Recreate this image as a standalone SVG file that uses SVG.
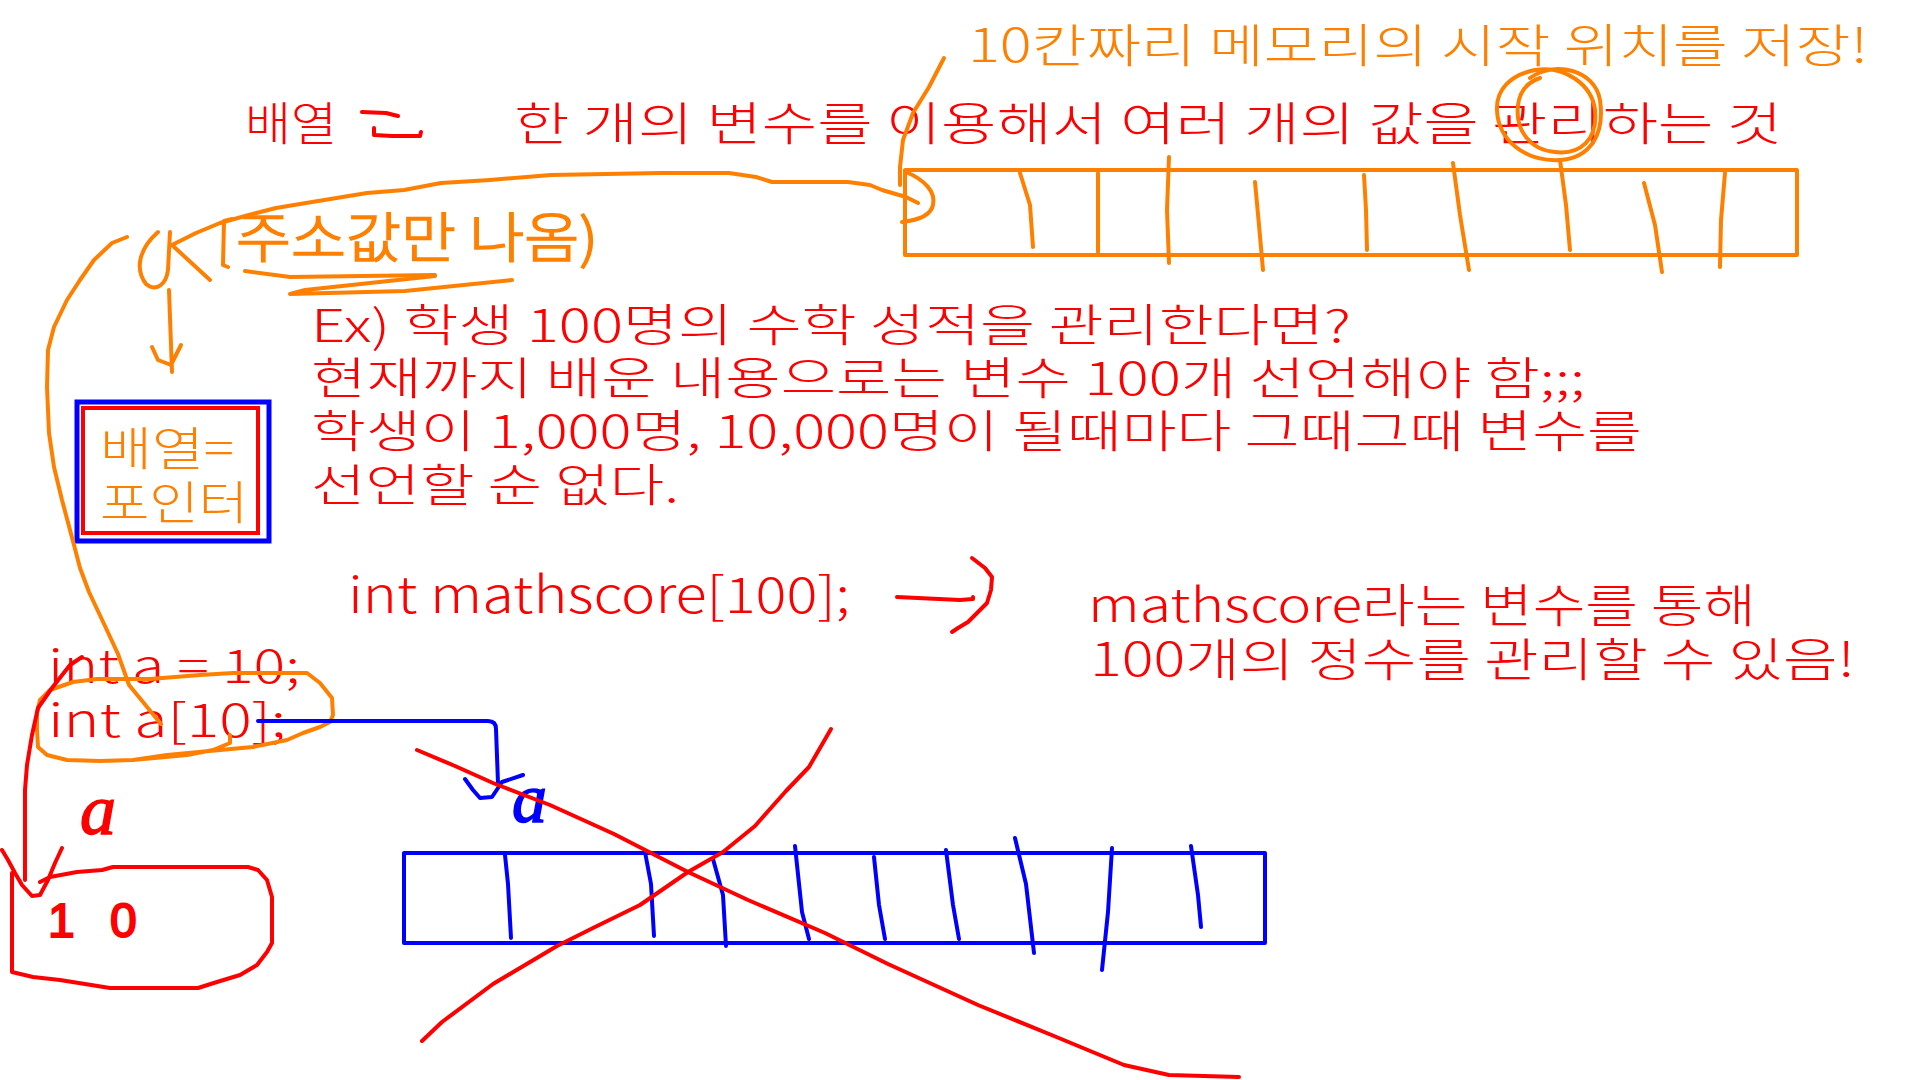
<svg xmlns="http://www.w3.org/2000/svg" width="1920" height="1080" viewBox="0 0 1920 1080">
<style>
.kr{font-family:"Noto Sans CJK KR","Noto Sans",sans-serif;font-weight:300}
.r{fill:#FF0000}
.or{fill:#FF8000}
.so{stroke:#FF8000;fill:none;stroke-width:4;stroke-linecap:round;stroke-linejoin:round}
.sr{stroke:#FF0000;fill:none;stroke-width:4;stroke-linecap:round;stroke-linejoin:round}
.sb{stroke:#0000FF;fill:none;stroke-width:4;stroke-linecap:round;stroke-linejoin:round}
.hand{font-family:"Liberation Serif",serif;font-style:italic}
</style>
<rect width="1920" height="1080" fill="#FFFFFF"/>

<g id="title-note">
<text class="kr or" x="968" y="62" font-size="46" textLength="900" lengthAdjust="spacingAndGlyphs">10칸짜리 메모리의 시작 위치를 저장!</text>
</g>
<g id="definition">
<text class="kr r" x="245" y="140" font-size="46" textLength="92" lengthAdjust="spacingAndGlyphs">배열</text>
<path class="sr" stroke-width="7" d="M362,112 L386,113 L398,116 M374,128 L374,135 L392,136 L420,136 L421,132"/>
<text class="kr r" x="514" y="140" font-size="46" textLength="1268" lengthAdjust="spacingAndGlyphs">한 개의 변수를 이용해서 여러 개의 값을 관리하는 것</text>
</g>

<g id="memory-top">
<rect x="905" y="170" width="892" height="85" class="so" stroke-width="5"/>
<path class="so" d="M1020,173 L1030,205 L1033,247 M1098,173 L1098,252 M1169,157 L1167,210 L1169,263 M1255,182 L1259,225 L1263,270 M1364,175 L1366,210 L1367,250 M1453,163 L1460,215 L1469,270 M1560,160 L1566,205 L1570,250 M1644,183 L1655,225 L1662,272 M1725,173 L1721,220 L1720,267"/>
<path class="so" d="M906,172 C925,180 936,192 933,205 C931,215 920,220 902,222"/>
<path class="so" d="M944,58 L929,87 L913,113 L903,140 L900,167 L900,185"/>
<path class="so" d="M1530,78 C1555,60 1595,70 1600,100 C1605,135 1590,158 1560,160 C1525,162 1498,140 1497,110 C1496,90 1510,75 1535,70 C1565,65 1592,85 1595,110 C1598,140 1580,155 1555,152 C1530,150 1515,130 1518,105 C1520,90 1528,82 1540,78"/>
</g>

<g id="address-note">
<text class="kr or" x="236" y="258" font-size="54" stroke="#FF8000" stroke-width="1.5" textLength="362" lengthAdjust="spacingAndGlyphs">주소값만 나옴)</text>
<path class="so" d="M232,219 L224,221 L223,265 L228,267"/>
<path class="so" d="M158,232 C140,248 134,268 146,284 C156,292 166,285 168,270 L170,232"/>
<path class="so" stroke-width="8" d="M245,271 L290,277 L435,275"/>
<path class="so" stroke-width="5" d="M435,276 L305,290 L290,294 L405,291 L512,280"/>
</g>

<g id="pointer-box">
<rect x="77" y="402" width="192" height="139" fill="none" stroke="#0000FF" stroke-width="5"/>
<rect x="83" y="408" width="175" height="125" fill="none" stroke="#FF0000" stroke-width="4"/>
<text class="kr or" x="100" y="465" font-size="46" textLength="134" lengthAdjust="spacingAndGlyphs">배열=</text>
<text class="kr or" x="100" y="519" font-size="46" textLength="148" lengthAdjust="spacingAndGlyphs">포인터</text>
</g>

<g id="example">
<text class="kr r" x="311" y="342" font-size="45" textLength="1040" lengthAdjust="spacingAndGlyphs">Ex) 학생 100명의 수학 성적을 관리한다면?</text>
<text class="kr r" x="311" y="395" font-size="45" textLength="1274" lengthAdjust="spacingAndGlyphs">현재까지 배운 내용으로는 변수 100개 선언해야 함;;;</text>
<text class="kr r" x="311" y="448" font-size="45" textLength="1331" lengthAdjust="spacingAndGlyphs">학생이 1,000명, 10,000명이 될때마다 그때그때 변수를</text>
<text class="kr r" x="311" y="502" font-size="45" textLength="368" lengthAdjust="spacingAndGlyphs">선언할 순 없다.</text>
</g>

<g id="mathscore">
<text class="kr r" x="348" y="613" font-size="50" textLength="502" lengthAdjust="spacingAndGlyphs">int mathscore[100];</text>
<text class="kr r" x="1088" y="622" font-size="46" textLength="668" lengthAdjust="spacingAndGlyphs">mathscore라는 변수를 통해</text>
<text class="kr r" x="1090" y="676" font-size="46" textLength="765" lengthAdjust="spacingAndGlyphs">100개의 정수를 관리할 수 있음!</text>
</g>

<g id="code-a">
<text class="kr r" x="48" y="683" font-size="46" textLength="252" lengthAdjust="spacingAndGlyphs">int a = 10;</text>
<text class="kr r" x="48" y="737" font-size="46" textLength="238" lengthAdjust="spacingAndGlyphs">int a[10];</text>
<path class="so" d="M40,700 L50,690 L73,682 L97,679 L150,679 L200,675 L233,673 L307,673 L320,683 L332,698 L333,715 L330,722 L320,727 L303,733 L287,740 L253,747 L220,750 L167,755 L133,760 L100,761 L67,760 L47,755 L38,747 L37,730 L37,713 L40,700 M133,760 L187,755 L213,750 L230,743 L230,735"/>
</g>

<g id="var-box">
<path class="sr" d="M12,873 L12,972 L33,977 L60,980 L110,988 L198,988 L217,982 L240,975 L257,965 L267,952 L272,943 L272,897 L267,880 L258,870 L248,867 L113,867 L102,870 L77,872 L50,877 L40,882"/>
<text font-family="Liberation Sans, sans-serif" fill="#FF0000" stroke="#FF0000" stroke-width="2" font-size="48" y="937"><tspan x="48">1</tspan><tspan x="110">0</tspan></text>
<text class="hand" fill="#FF0000" stroke="#FF0000" stroke-width="1.5" font-size="72" x="80" y="834">a</text>
</g>

<g id="memory-bottom">
<rect x="404" y="853" width="861" height="90" class="sb" stroke-width="5"/>
<path class="sb" d="M505,855 L508,884 L511,938 M645,852 L651,884 L654,936 M713,859 L723,895 L726,946 M795,846 L802,912 L809,939 M874,857 L879,905 L885,939 M946,850 L953,905 L959,939 M1015,838 L1026,884 L1034,953 M1112,848 L1108,912 L1102,970 M1191,846 L1198,895 L1201,927"/>
<text class="hand" fill="#0000FF" stroke="#0000FF" stroke-width="1.5" font-size="70" x="512" y="822">a</text>
</g>

<g id="connectors">
<path class="so" d="M918,203 L906,197 L882,190 L870,185 L848,182 L772,182 L756,177 L729,173 L661,173 L551,175 L490,180 L441,183 L404,190 L367,193 L306,203 L276,208 L245,216 L220,223 L196,233 L172,245 L210,280"/>
<path class="so" d="M169,290 L172,372 M152,347 L158,360 L171,365 L181,345"/>
<path class="so" stroke-width="3" d="M127,237 L112,243 L94,260 L80,280 L67,300 L54,327 L48,350 L47,387 L49,433 L54,467 L62,500 L74,545 L80,568 L89,592 L105,626 L118,654 L129,685 L143,702 L161,724"/>
<path class="sb" d="M258,721 L488,721 Q496,721 496,729 L498,783 M465,779 L473,790 L480,798 L492,797 L498,788 L502,782 L523,775"/>
<path class="sr" stroke-width="4" d="M82,657 L70,665 L52,688 L38,708 L32,735 L27,765 L25,790 L25,880"/>
<path class="sr" d="M2,850 L8,860 L15,873 L22,885 L32,896 L40,895 L48,880 L55,863 L62,848"/>
<path class="sr" stroke-width="6" d="M897,597 L960,600 L973,599 L973,597 M972,558 L985,568 L992,577 L991,590 L987,603 L977,613 L968,622 L958,628 L952,632"/>
<path class="sr" d="M417,750 L455,766 L493,783 L550,805 L614,834 L688,872 L748,900 L825,933 L888,964 L978,1005 L1054,1036 L1124,1065 L1169,1075 L1239,1077"/>
<path class="sr" d="M422,1041 L442,1022 L493,984 L557,946 L595,927 L640,905 L688,872 L723,852 L755,826 L786,791 L809,767 L831,729"/>
</g>
</svg>
